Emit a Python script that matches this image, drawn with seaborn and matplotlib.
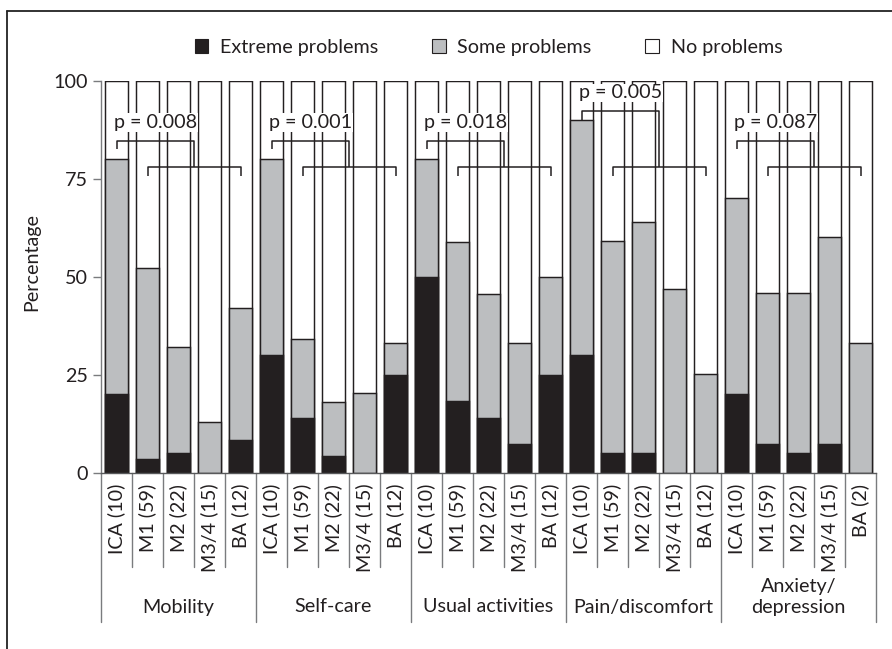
import numpy as np
import pandas as pd
import matplotlib
matplotlib.use("Agg")
import matplotlib.pyplot as plt
import matplotlib.transforms as mtransforms
from matplotlib.patches import Patch
from matplotlib.lines import Line2D
import seaborn as sns

# ---------------- data ----------------
dimensions = ["Mobility", "Self-care", "Usual activities", "Pain/discomfort", "Anxiety/\ndepression"]
groups = ["ICA (10)", "M1 (59)", "M2 (22)", "M3/4 (15)", "BA (12)"]
groups_last = ["ICA (10)", "M1 (59)", "M2 (22)", "M3/4 (15)", "BA (2)"]

extreme_mobility = [20, 3.4, 5, 0, 8.3]
some_mobility = [60, 48.8, 27, 13, 33.7]
extreme_selfcare = [30, 14, 4.3, 0, 25]
some_selfcare = [50, 20.2, 13.7, 20.3, 8]
extreme_usual = [50, 18.2, 14, 7.2, 25]
some_usual = [30, 40.7, 31.6, 25.8, 25]
extreme_pain = [30, 5.1, 5.1, 0, 0]
some_pain = [60, 54, 58.8, 46.9, 25.2]
extreme_anxiety = [20, 7.2, 5.1, 7.2, 0]
some_anxiety = [50, 38.7, 40.8, 53, 33.2]

p_values = ["p = 0.008", "p = 0.001", "p = 0.018", "p = 0.005", "p = 0.087"]
series_names = ["Extreme problems", "Some problems", "No problems"]
yticks = [0, 25, 50, 75, 100]

# ---------------- build table ----------------
extreme = extreme_mobility + extreme_selfcare + extreme_usual + extreme_pain + extreme_anxiety
some = some_mobility + some_selfcare + some_usual + some_pain + some_anxiety
tick_labels = groups * 4 + groups_last
n = len(extreme)
df = pd.DataFrame({
    "pos": list(range(n)),
    "extreme": extreme,
    "some": some,
})
df["total"] = df["extreme"] + df["some"]
df["full"] = 100.0

# ---------------- style ----------------
sns.set_theme(style="white")
plt.rcParams["font.family"] = ["Lato", "DejaVu Sans"]
FS = 14.2
DARK = "#231f20"
GRAY = "#bcbec0"
AXC = "#7a7b7e"

fig = plt.figure(figsize=(8.92, 6.49), dpi=100)
W, H = 892, 649
ax_left, ax_right, ax_top, ax_bottom = 101, 876, 80.7, 472.7
ax = fig.add_axes([ax_left / W, 1 - ax_bottom / H, (ax_right - ax_left) / W, (ax_bottom - ax_top) / H])

# outer frame
fig.add_artist(Line2D([7 / W, 7 / W], [0, 1 - 11 / H], transform=fig.transFigure, color="#222222", lw=1.3))
fig.add_artist(Line2D([7 / W, 1.01], [1 - 11 / H, 1 - 11 / H], transform=fig.transFigure, color="#222222", lw=1.3))

order = list(range(n))
bw = 0.71
common = dict(x="pos", order=order, width=bw, edgecolor=DARK, linewidth=1.05, ax=ax, errorbar=None, zorder=2)
sns.barplot(data=df, y="full", color="white", saturation=1, **common)
sns.barplot(data=df, y="total", color=GRAY, saturation=1, **common)
sns.barplot(data=df, y="extreme", color=DARK, saturation=1, **common)
for p in ax.patches:
    if p.get_height() <= 0:
        p.set_visible(False)

ax.set_xlim(-0.5, n - 0.5)
ax.set_ylim(0, 100)
ax.set_yticks(yticks)
ax.set_yticklabels([str(t) for t in yticks], fontsize=FS, color="#231f20")
ax.set_xticks(order)
ax.set_xticklabels(tick_labels, rotation=90, fontsize=FS, color="#231f20", va="top", ha="center")
ax.tick_params(axis="x", length=0, pad=8)
ax.tick_params(axis="y", length=6, width=1.0, color=AXC, pad=3.5, direction="out", left=True)
ax.set_xlabel("")
ax.set_ylabel("Percentage", fontsize=FS, color="#231f20")
ax.yaxis.set_label_coords((40 - ax_left) / (ax_right - ax_left), (ax_bottom - 262) / (ax_bottom - ax_top))

for s in ["top", "right"]:
    ax.spines[s].set_visible(False)
ax.spines["left"].set_color(AXC)
ax.spines["left"].set_linewidth(1.0)
ax.spines["bottom"].set_color("#58595b")
ax.spines["bottom"].set_linewidth(1.0)

# separators below axis
trans = mtransforms.blended_transform_factory(ax.transData, ax.transAxes)
ph = ax_bottom - ax_top
inner_end = -(567 - ax_bottom) / ph
group_end = -(622 - ax_bottom) / ph
for b in range(n + 1):
    xb = b - 0.5
    yend = group_end if b % 5 == 0 else inner_end
    ax.plot([xb, xb], [0, yend], transform=trans, color=AXC, lw=1.0, clip_on=False, zorder=1)

# dimension labels
for g, name in enumerate(dimensions):
    ycen = 607 if "\n" not in name else 597
    ax.text(5 * g + 2, -(ycen - ax_bottom) / ph, name, transform=trans, ha="center", va="center",
            fontsize=FS, color="#231f20", linespacing=1.25)

# significance brackets
upper_y = [84.7, 84.7, 84.7, 92.3, 84.7]
lower_y = 77.9
leg = 2.2
for g in range(5):
    b = 5 * g
    mid = b + 2.5
    uy = upper_y[g]
    kw = dict(color="#231f20", lw=1.1, zorder=4, clip_on=False, solid_capstyle="butt")
    ax.plot([b + 1, b + 1, b + 4, b + 4], [lower_y - leg, lower_y, lower_y, lower_y - leg], **kw)
    ax.plot([b, b, mid, mid], [uy - leg, uy, uy, lower_y], **kw)
    ax.text(b + 1.25, uy + 4.6, p_values[g], ha="center", va="center", fontsize=FS, color="#231f20",
            zorder=5, bbox=dict(facecolor="white", edgecolor="none", pad=0.5))

# legend
handles = [Patch(facecolor=DARK, edgecolor=DARK, lw=0.8),
           Patch(facecolor=GRAY, edgecolor=DARK, lw=0.8),
           Patch(facecolor="white", edgecolor=DARK, lw=0.8)]
leg_ = ax.legend(handles, series_names, ncol=3, loc="center", bbox_to_anchor=(0.5, (ax_bottom - 47) / ph),
                 frameon=False, fontsize=FS, handlelength=0.7, handleheight=0.7, handletextpad=0.6,
                 columnspacing=2.7, borderaxespad=0)
for t in leg_.get_texts():
    t.set_color("#231f20")

fig.savefig("out.png", dpi=100, facecolor="white")
